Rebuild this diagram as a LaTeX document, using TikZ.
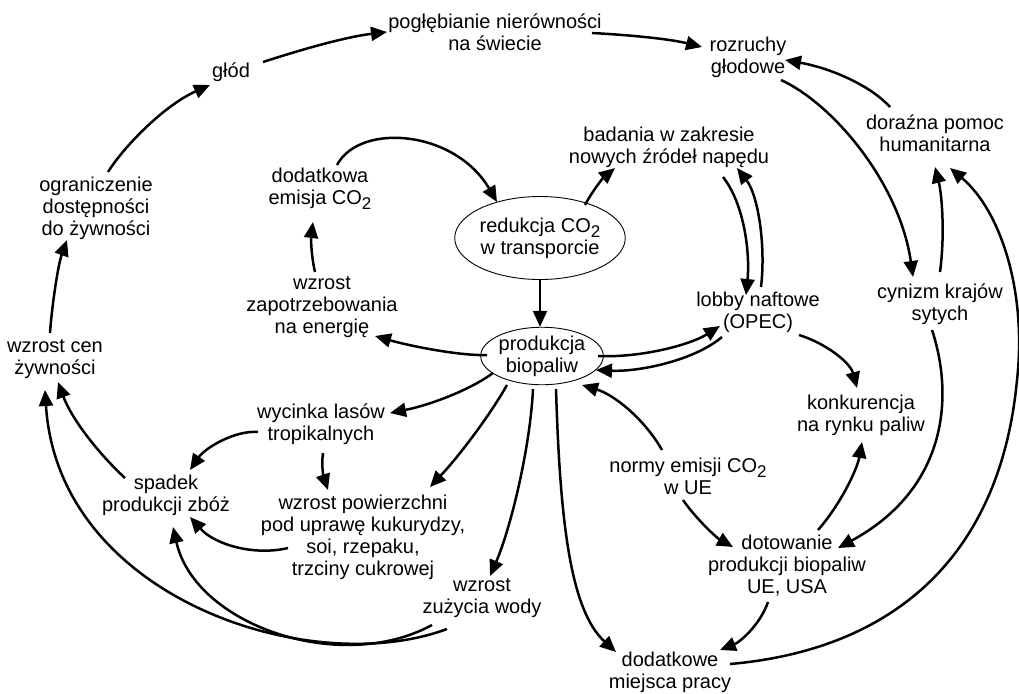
\documentclass[tikz,border=0pt]{standalone}
\usepackage{fontspec}
\setmainfont{Liberation Sans}
\usetikzlibrary{arrows.meta,shapes.geometric}
\newcommand{\subtwo}{\raisebox{-5pt}[0pt][0pt]{\fontsize{17}{17}\selectfont 2}}
\begin{document}
\begin{tikzpicture}[x=1pt,y=-1pt,
  lbl/.style={align=center,font=\fontsize{20}{22}\selectfont,inner sep=0pt},
  ell/.style={lbl,ellipse,draw,line width=0.9pt,inner sep=0pt},
  arr/.style={line width=2.5pt,-{Triangle[length=16pt,width=14pt]}}]
\useasboundingbox (0,0) rectangle (1019,693);
% nodes
\node[lbl] (pog)  at (495,32)  {pogłębianie nierówności\\na świecie};
\node[lbl] (glod) at (231,72)  {głód};
\node[lbl] (rozr) at (748,57)  {rozruchy\\głodowe};
\node[lbl] (dor)  at (935,133) {doraźna pomoc\\humanitarna};
\node[lbl] (bad)  at (669,147) {badania w zakresie\\nowych źródeł napędu};
\node[lbl] (dod)  at (320,188) {dodatkowa\\emisja CO\subtwo};
\node[lbl] (ogr)  at (96,208)  {ograniczenie\\dostępności\\do żywności};
\node[ell,minimum width=154pt,minimum height=83pt] (red) at (540,238) {redukcja CO\subtwo\\w transporcie};
\node[lbl] (wzz)  at (322,307) {wzrost\\zapotrzebowania\\na energię};
\node[lbl] (lob)  at (758,312) {lobby naftowe\\(OPEC)};
\node[lbl] (cyn)  at (940,304) {cynizm krajów\\sytych};
\node[ell,minimum width=112pt,minimum height=57pt] (prod) at (542,356) {produkcja\\biopaliw};
\node[lbl] (wce)  at (55,359)  {wzrost cen\\żywności};
\node[lbl] (wyc)  at (321,424) {wycinka lasów\\tropikalnych};
\node[lbl] (kon)  at (861,415) {konkurencja\\na rynku paliw};
\node[lbl] (spa)  at (166,495) {spadek\\produkcji zbóż};
\node[lbl] (wpow) at (363,537) {wzrost powierzchni\\pod uprawę kukurydzy,\\soi, rzepaku,\\trzciny cukrowej};
\node[lbl] (nor)  at (688,476) {normy emisji CO\subtwo\\w UE};
\node[lbl] (wzw)  at (482,598) {wzrost\\zużycia wody};
\node[lbl] (dot)  at (787,566) {dotowanie\\produkcji biopaliw\\UE, USA};
\node[lbl] (dmp)  at (670,672) {dodatkowe\\miejsca pracy};
% connectors
\draw[arr] ([shift={(32,-10)}]glod.center) .. controls (300,50) and (345,37) .. ([shift={(-108,0)}]pog.center);
\draw[arr] ([shift={(97,1)}]pog.center) .. controls (630,35) and (670,39) .. ([shift={(-46,-10)}]rozr.center);
\draw[arr] ([shift={(12,-36)}]ogr.center) .. controls (125,145) and (165,105) .. ([shift={(-21,13)}]glod.center);
\draw[arr] ([shift={(-5,-26)}]wce.center) .. controls (52,305) and (58,265) .. ([shift={(-29,32)}]ogr.center);
\draw[arr] ([shift={(-41,-17)}]spa.center) .. controls (100,455) and (72,420) .. ([shift={(3,23)}]wce.center);
\draw[arr] ([shift={(-35,31)}]wzw.center) .. controls (310,680) and (58,598) .. ([shift={(-10,31)}]wce.center);
\draw[arr] ([shift={(-50,27)}]wzw.center) .. controls (340,675) and (195,625) .. ([shift={(7,32)}]spa.center);
\draw[arr] ([shift={(-63,8)}]wyc.center) .. controls (235,430) and (205,448) .. ([shift={(24,-25)}]spa.center);
\draw[arr] ([shift={(2,29)}]wyc.center) .. controls (321,467) and (324,478) .. ([shift={(-35,-47)}]wpow.center);
\draw[arr] ([shift={(-75,11)}]wpow.center) .. controls (255,556) and (215,545) .. ([shift={(24,22)}]spa.center);
\draw[arr] ([shift={(-55,-1)}]prod.center) .. controls (460,356) and (410,346) .. ([shift={(53,29)}]wzz.center);
\draw[arr] ([shift={(-7,-35)}]wzz.center) .. controls (311,255) and (311,238) .. ([shift={(-7,34)}]dod.center);
\draw[arr] ([shift={(17,-23)}]dod.center) .. controls (360,122) and (455,130) .. ([shift={(-43,-36)}]red.center);
\draw[arr] ([shift={(45,-33)}]red.center) .. controls (593,190) and (603,178) .. ([shift={(-54,21)}]bad.center);
\draw[arr] (red.south) -- (red.south |- prod.north);
\draw[arr] ([shift={(56,0)}]prod.center) .. controls (640,358) and (690,345) .. ([shift={(-38,14)}]lob.center);
\draw[arr] ([shift={(-36,25)}]lob.center) .. controls (695,360) and (640,372) .. ([shift={(54,14)}]prod.center);
\draw[arr] ([shift={(54,30)}]bad.center) .. controls (745,205) and (750,255) .. ([shift={(-12,-17)}]lob.center);
\draw[arr] ([shift={(3,-25)}]lob.center) .. controls (766,245) and (758,195) .. ([shift={(68,21)}]bad.center);
\draw[arr] ([shift={(41,23)}]lob.center) .. controls (825,343) and (850,362) .. ([shift={(-4,-27)}]kon.center);
\draw[arr] ([shift={(31,-36)}]dot.center) .. controls (840,505) and (857,470) .. ([shift={(1,27)}]kon.center);
\draw[arr] ([shift={(-26,-26)}]nor.center) .. controls (645,420) and (615,395) .. ([shift={(40,29)}]prod.center);
\draw[arr] ([shift={(-5,24)}]nor.center) .. controls (697,520) and (717,538) .. ([shift={(-54,-19)}]dot.center);
\draw[arr] ([shift={(-19,36)}]dot.center) .. controls (760,625) and (740,642) .. ([shift={(50,-22)}]dmp.center);
\draw[arr] ([shift={(14,33)}]prod.center) .. controls (560,520) and (570,610) .. ([shift={(-54,-20)}]dmp.center);
\draw[arr] ([shift={(-9,33)}]prod.center) .. controls (530,450) and (510,530) .. ([shift={(8,-22)}]wzw.center);
\draw[arr] ([shift={(-35,29)}]prod.center) .. controls (490,415) and (460,455) .. ([shift={(67,-50)}]wpow.center);
\draw[arr] ([shift={(-49,17)}]prod.center) .. controls (470,390) and (430,405) .. ([shift={(69,-11)}]wyc.center);
\draw[arr] ([shift={(33,23)}]rozr.center) .. controls (835,105) and (900,185) .. ([shift={(-27,-27)}]cyn.center);
\draw[arr] ([shift={(0,-32)}]cyn.center) .. controls (945,235) and (942,195) .. ([shift={(0,34)}]dor.center);
\draw[arr] ([shift={(-45,-26)}]dor.center) .. controls (870,85) and (830,68) .. ([shift={(37,3)}]rozr.center);
\draw[arr] ([shift={(-8,26)}]cyn.center) .. controls (955,400) and (945,490) .. ([shift={(51,-18)}]dot.center);
\draw[arr] ([shift={(60,-8)}]dmp.center) .. controls (890,650) and (1000,560) .. (1017,380) .. controls (1027,290) and (1000,210) .. ([shift={(15,35)}]dor.center);
\end{tikzpicture}
\end{document}
